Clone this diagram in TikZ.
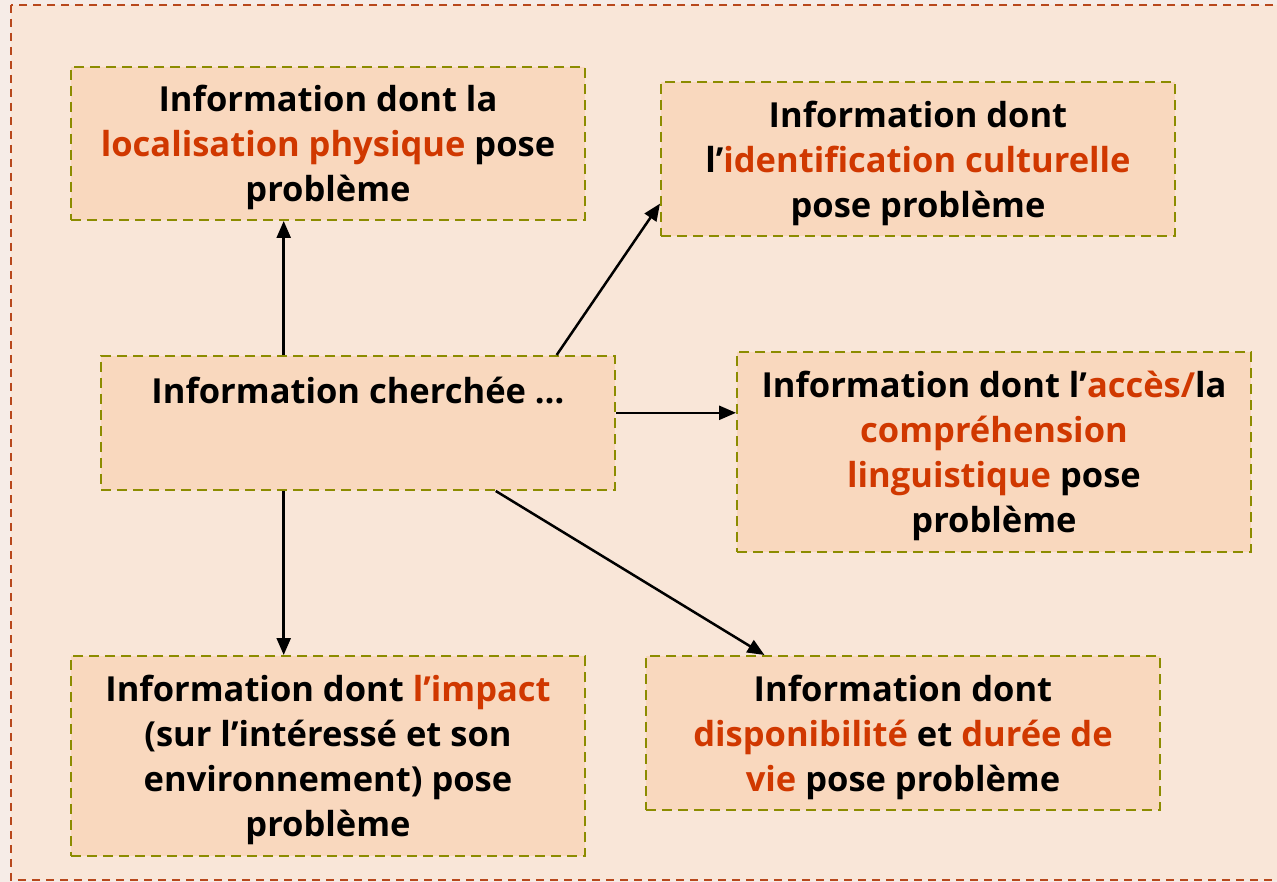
\documentclass[tikz,border=0pt]{standalone}
\usepackage{fontspec}
\setmainfont{Open Sans}
\usepackage{xcolor}
\usetikzlibrary{arrows.meta,positioning,calc}
\definecolor{pagebg}{RGB}{246,236,231}
\definecolor{framebg}{RGB}{249,230,216}
\definecolor{framedash}{RGB}{184,72,28}
\definecolor{boxfill}{RGB}{249,216,190}
\definecolor{boxdash}{RGB}{140,140,0}
\definecolor{accent}{RGB}{208,56,0}
\newcommand{\hl}[1]{\textcolor{accent}{#1}}

\begin{document}
\begin{tikzpicture}[x=1pt,y=-1pt,
    infobox/.style={draw=boxdash, fill=boxfill, line width=2pt,
        dash pattern=on 10pt off 6pt, minimum width=514pt, align=center,
        font=\fontsize{34.5}{45}\selectfont\bfseries, inner sep=0pt},
    arr/.style={-{Triangle[length=17pt,width=14pt]}, line width=2.5pt}]
    \useasboundingbox (0,0) rectangle (1277,882);
    \fill[pagebg] (0,0) rectangle (1277,882);
    \draw[framedash, fill=framebg, line width=1.8pt, dash pattern=on 8pt off 6pt] (11,5) rectangle (1300,880);

    % the six boxes
    \node[infobox, minimum height=153pt, text depth=0pt] (loc) at (328,143.5) {Information dont la\\\hl{localisation physique} pose\\problème};
    \node[infobox, minimum height=154pt, text depth=0pt] (cult) at (918,159) {Information dont\\l’\hl{identification culturelle}\\pose problème};
    \node[infobox, anchor=north, text height=47pt, text depth=87pt] (cent) at (358,355) {Information cherchée …};
    \node[infobox, minimum height=200pt, text depth=0pt] (ling) at (994,452) {Information dont l’\hl{accès/}la\\\hl{compréhension}\\\hl{linguistique} pose\\problème};
    \node[infobox, minimum height=200pt, text depth=0pt] (imp) at (328,756) {Information dont \hl{l’impact}\\(sur l’intéressé et son\\environnement) pose\\problème};
    \node[infobox, minimum height=154pt, text depth=0pt] (disp) at (903,733) {Information dont\\\hl{disponibilité} et \hl{durée de}\\\hl{vie} pose problème};

    % arrows out of the centre box
    \coordinate (up) at ($(cent.north west)!0.356!(cent.north east)$);
    \coordinate (down) at ($(cent.south west)!0.356!(cent.south east)$);
    \coordinate (right) at ($(cent.north east)!0.425!(cent.south east)$);
    \draw[arr] (up) -- (up |- loc.south);
    \draw[arr] ($(cent.north west)!0.885!(cent.north east)$) -- ($(cult.north west)!0.786!(cult.south west)$);
    \draw[arr] (right) -- (right -| ling.west);
    \draw[arr] (down) -- (down |- imp.north);
    \draw[arr] ($(cent.south west)!0.767!(cent.south east)$) -- ($(disp.north west)!0.2315!(disp.north east)$);
\end{tikzpicture}
\end{document}
